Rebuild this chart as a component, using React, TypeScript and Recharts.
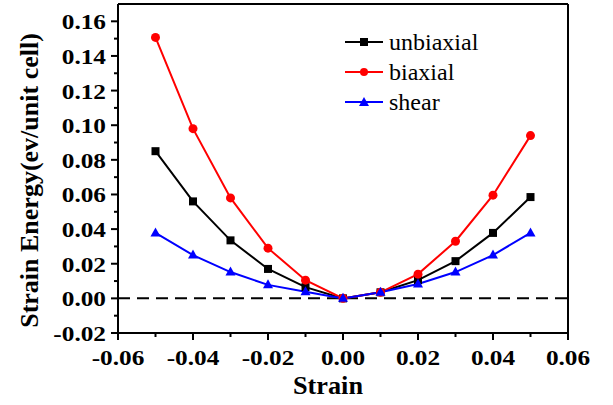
import React from 'react';
import { LineChart, Line, XAxis, YAxis, ReferenceLine, Label } from 'recharts';

const strain = [-0.05, -0.04, -0.03, -0.02, -0.01, 0, 0.01, 0.02, 0.03, 0.04, 0.05];
const unbiaxial = [0.085, 0.056, 0.0335, 0.017, 0.0065, 0, 0.0035, 0.0105, 0.0215, 0.0378, 0.0585];
const biaxial = [0.1507, 0.098, 0.058, 0.029, 0.0105, 0, 0.0035, 0.014, 0.033, 0.0596, 0.094];
const shear = [0.0378, 0.025, 0.0152, 0.0078, 0.0038, 0, 0.0035, 0.0083, 0.0152, 0.025, 0.0378];

const xTicks = [-0.06, -0.05, -0.04, -0.03, -0.02, -0.01, 0, 0.01, 0.02, 0.03, 0.04, 0.05, 0.06];
const yTicks = [-0.02, -0.01, 0, 0.01, 0.02, 0.03, 0.04, 0.05, 0.06, 0.07, 0.08, 0.09, 0.1, 0.11, 0.12, 0.13, 0.14, 0.15, 0.16];

const data = strain.map((s, i) => ({
  strain: s,
  unbiaxial: unbiaxial[i],
  biaxial: biaxial[i],
  shear: shear[i],
}));

const FONT = 'Liberation Serif, DejaVu Serif, serif';

const isMajor = (v: number) => Math.round(v * 100) % 2 === 0;

const XTick = (props: any) => {
  const { x, y, payload } = props;
  const major = isMajor(payload.value);
  return (
    <g>
      <line x1={x} x2={x} y1={y} y2={y + (major ? 7 : 4)} stroke="#000" strokeWidth={2} />
      {major && (
        <text
          transform={`translate(${x},${y + 32}) scale(1.15,1)`}
          textAnchor="middle"
          style={{ fontFamily: FONT, fontWeight: 'bold', fontSize: 22 }}
          fill="#000"
        >
          {payload.value.toFixed(2)}
        </text>
      )}
    </g>
  );
};

const YTick = (props: any) => {
  const { x, y, payload } = props;
  const major = isMajor(payload.value);
  return (
    <g>
      <line x1={x} x2={x - (major ? 7 : 4)} y1={y} y2={y} stroke="#000" strokeWidth={2} />
      {major && (
        <text
          transform={`translate(${x - 12},${y + 8}) scale(1.15,1)`}
          textAnchor="end"
          style={{ fontFamily: FONT, fontWeight: 'bold', fontSize: 22 }}
          fill="#000"
        >
          {payload.value.toFixed(2)}
        </text>
      )}
    </g>
  );
};

const SquareDot = (props: any) => {
  const { cx, cy, stroke } = props;
  return <rect x={cx - 4} y={cy - 4} width={8} height={8} fill={stroke} />;
};
const CircleDot = (props: any) => {
  const { cx, cy, stroke } = props;
  return <circle cx={cx} cy={cy} r={4.5} fill={stroke} />;
};
const TriangleDot = (props: any) => {
  const { cx, cy, stroke } = props;
  return <path d={`M${cx},${cy - 5.5} L${cx + 5},${cy + 3.5} L${cx - 5},${cy + 3.5} Z`} fill={stroke} />;
};

const legendItems = [
  { name: 'unbiaxial', color: '#000000', shape: 'square' },
  { name: 'biaxial', color: '#ff0000', shape: 'circle' },
  { name: 'shear', color: '#0000ff', shape: 'triangle' },
];

export default function App() {
  return (
    <div style={{ position: 'absolute', left: 0, top: 0, width: 613, height: 405, background: '#fff' }}>
      <LineChart width={613} height={405} data={data} margin={{ top: 4, right: 45, bottom: 0, left: 0 }}>
        <XAxis
          dataKey="strain"
          type="number"
          domain={[-0.06, 0.06]}
          ticks={xTicks}
          interval={0}
          tick={<XTick />}
          tickLine={false}
          tickSize={0}
          tickMargin={0}
          height={72}
          axisLine={{ stroke: '#000', strokeWidth: 2 }}
        >
          <Label
            content={(p: any) => {
              const vb = p.viewBox;
              return (
                <text
                  transform={`translate(${vb.x + vb.width / 2 - 15},${vb.y + 61}) scale(1.05,1)`}
                  textAnchor="middle"
                  style={{ fontFamily: FONT, fontWeight: 'bold', fontSize: 25 }}
                  fill="#000"
                >
                  Strain
                </text>
              );
            }}
          />
        </XAxis>
        <YAxis
          type="number"
          domain={[-0.02, 0.17]}
          ticks={yTicks}
          interval={0}
          tick={<YTick />}
          tickLine={false}
          tickSize={0}
          tickMargin={0}
          width={118}
          axisLine={{ stroke: '#000', strokeWidth: 2 }}
        >
          <Label
            content={(p: any) => {
              const vb = p.viewBox;
              return (
                <text
                  transform={`translate(${vb.x + 38},${vb.y + vb.height / 2 + 12}) rotate(-90)`}
                  textAnchor="middle"
                  style={{ fontFamily: FONT, fontWeight: 'bold', fontSize: 26 }}
                  fill="#000"
                >
                  Strain Energy(ev/unit cell)
                </text>
              );
            }}
          />
        </YAxis>
        <ReferenceLine y={0.17} stroke="#000" strokeWidth={2} />
        <ReferenceLine x={0.06} stroke="#000" strokeWidth={2} />
        <ReferenceLine y={0} stroke="#000" strokeWidth={2} strokeDasharray="12 7" />
        <Line type="linear" dataKey="unbiaxial" stroke="#000000" strokeWidth={2} dot={<SquareDot />} isAnimationActive={false} />
        <Line type="linear" dataKey="biaxial" stroke="#ff0000" strokeWidth={2} dot={<CircleDot />} isAnimationActive={false} />
        <Line type="linear" dataKey="shear" stroke="#0000ff" strokeWidth={2} dot={<TriangleDot />} isAnimationActive={false} />
      </LineChart>
      <div style={{ position: 'absolute', left: 344, top: 27, fontFamily: FONT, fontSize: 24, color: '#000' }}>
        {legendItems.map(it => (
          <div key={it.name} style={{ display: 'flex', alignItems: 'center', height: 30 }}>
            <svg width={40} height={12} style={{ marginRight: 5 }}>
              <line x1={1} x2={39} y1={6} y2={6} stroke={it.color} strokeWidth={2} />
              {it.shape === 'square' && <rect x={16} y={2} width={8} height={8} fill={it.color} />}
              {it.shape === 'circle' && <circle cx={20} cy={6} r={4} fill={it.color} />}
              {it.shape === 'triangle' && <path d="M20,1 L25,10 L15,10 Z" fill={it.color} />}
            </svg>
            <span>{it.name}</span>
          </div>
        ))}
      </div>
    </div>
  );
}
